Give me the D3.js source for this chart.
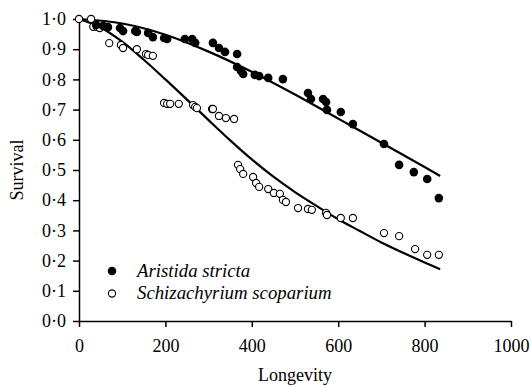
<!DOCTYPE html>
<html>
<head>
<meta charset="utf-8">
<script src="https://cdn.jsdelivr.net/npm/d3@7"></script>
<style>
  body { margin: 0; background: #fff; }
  svg text { font-family: "Liberation Serif", "Times New Roman", serif; fill: #000; }
</style>
</head>
<body>
<div id="chart"></div>
<script>
// Aristida stricta (filled)
var aristidaX = [40, 56, 67, 95, 102, 130, 134, 160, 171, 197, 204, 245, 262, 269, 310, 324, 338, 366,
  366, 375, 380, 407, 417, 438, 472, 530, 537, 565, 572, 574, 606, 634, 706, 741, 775, 806, 833];
var aristidaY = [0.98, 0.977, 0.973, 0.97, 0.96, 0.96, 0.957, 0.954, 0.94, 0.937, 0.934, 0.934, 0.934, 0.921, 0.921, 0.904, 0.891, 0.884,
  0.841, 0.828, 0.818, 0.815, 0.811, 0.805, 0.801, 0.755, 0.735, 0.735, 0.725, 0.699, 0.692, 0.652, 0.586, 0.517, 0.493, 0.47, 0.407];

// Schizachyrium scoparium (open)
var schizX = [0, 28, 33, 41, 48, 70, 97, 102, 134, 155, 160, 171, 197, 204, 211, 231, 264, 269, 273, 308, 310, 324, 340, 359,
  368, 373, 380, 403, 410, 417, 438, 451, 465, 472, 479, 507, 530, 539, 572, 574, 606, 634, 706, 741, 778, 806, 833];
var schizY = [1.0, 1.0, 0.974, 0.974, 0.97, 0.92, 0.914, 0.904, 0.9, 0.884, 0.881, 0.878, 0.722, 0.719, 0.719, 0.719, 0.715, 0.709, 0.705, 0.702, 0.702, 0.679, 0.672, 0.669,
  0.517, 0.503, 0.487, 0.477, 0.457, 0.444, 0.437, 0.424, 0.421, 0.401, 0.394, 0.374, 0.371, 0.368, 0.358, 0.351, 0.341, 0.341, 0.291, 0.281, 0.238, 0.219, 0.219];

// fitted curves
var aristidaFitX = [0, 100, 200, 300, 400, 500, 600, 700, 800, 836];
var aristidaFitY = [1.0, 0.985, 0.948, 0.892, 0.825, 0.75, 0.67, 0.59, 0.51, 0.48];
var schizFitX = [0, 50, 100, 150, 200, 250, 300, 350, 400, 450, 500, 550, 600, 650, 700, 750, 800, 836];
var schizFitY = [1.0, 0.972, 0.925, 0.865, 0.8, 0.733, 0.665, 0.598, 0.535, 0.478, 0.427, 0.381, 0.337, 0.298, 0.26, 0.226, 0.194, 0.171];

// ticks
var xTicks = [0, 200, 400, 600, 800, 1000];
var yTicks = [0, 0.1, 0.2, 0.3, 0.4, 0.5, 0.6, 0.7, 0.8, 0.9, 1.0];

var width = 531, height = 387;
var margin = { left: 79, top: 19, right: 20, bottom: 66 };
var serif = '"Liberation Serif", "Times New Roman", serif';

var svg = d3.select('#chart')
  .append('svg')
  .attr('width', width)
  .attr('height', height);

var xScale = d3.scaleLinear()
  .domain([0, 1000])
  .range([margin.left, width - margin.right]);

var yScale = d3.scaleLinear()
  .domain([0, 1])
  .range([height - margin.bottom, margin.top]);

var fmt = function(d) { return d3.format('.1f')(d).replace('.', '\u00B7'); };

// X Axis
svg.append('g')
  .attr('font-family', serif)
  .attr('transform', `translate(0, ${yScale(0)})`)
  .call(d3.axisBottom(xScale).tickValues(xTicks).tickFormat(d3.format('d')).tickSize(6).tickSizeOuter(0).tickPadding(12));

// Y Axis
svg.append('g')
  .attr('font-family', serif)
  .attr('transform', `translate(${xScale(0)}, 0)`)
  .call(d3.axisLeft(yScale).tickValues(yTicks).tickFormat(fmt).tickSize(6).tickSizeOuter(0).tickPadding(7));

svg.selectAll('.domain, .tick line')
  .attr('stroke', '#000')
  .attr('stroke-width', 1.5);

svg.selectAll('.tick text')
  .attr('font-family', serif)
  .style('font-size', '18px');

// Axis labels
svg.append('text')
  .attr('x', xScale(500))
  .attr('y', 381)
  .attr('text-anchor', 'middle')
  .attr('font-family', serif)
  .style('font-size', '18px')
  .text('Longevity');

svg.append('text')
  .attr('transform', 'rotate(-90)')
  .attr('x', -yScale(0.5))
  .attr('y', 23)
  .attr('text-anchor', 'middle')
  .attr('font-family', serif)
  .style('font-size', '18px')
  .text('Survival');

// Fitted lines
var line = d3.line()
  .x((d) => xScale(d[0]))
  .y((d) => yScale(d[1]))
  .curve(d3.curveCatmullRom);

svg.append('path')
  .datum(d3.zip(aristidaFitX, aristidaFitY))
  .attr('d', line)
  .attr('fill', 'none')
  .attr('stroke', '#000')
  .attr('stroke-width', 2.2);

svg.append('path')
  .datum(d3.zip(schizFitX, schizFitY))
  .attr('d', line)
  .attr('fill', 'none')
  .attr('stroke', '#000')
  .attr('stroke-width', 2.2);

// Points
svg.selectAll('.open')
  .data(d3.zip(schizX, schizY))
  .enter().append('circle')
  .attr('class', 'open')
  .attr('cx', (d) => xScale(d[0]))
  .attr('cy', (d) => yScale(d[1]))
  .attr('r', 3.6)
  .attr('fill', '#fff')
  .attr('stroke', '#000')
  .attr('stroke-width', 1.1);

svg.selectAll('.filled')
  .data(d3.zip(aristidaX, aristidaY))
  .enter().append('circle')
  .attr('class', 'filled')
  .attr('cx', (d) => xScale(d[0]))
  .attr('cy', (d) => yScale(d[1]))
  .attr('r', 4.3)
  .attr('fill', '#000');

// Legend
var legendItems = [
  { name: 'Aristida stricta', filled: true },
  { name: 'Schizachyrium scoparium', filled: false }
];

var legend = svg.selectAll('.legend')
  .data(legendItems)
  .enter().append('g')
  .attr('class', 'legend')
  .attr('transform', (d, i) => `translate(112, ${271 + i * 22.5})`);

legend.append('circle')
  .attr('r', (d) => d.filled ? 4.3 : 3.6)
  .attr('fill', (d) => d.filled ? '#000' : '#fff')
  .attr('stroke', '#000')
  .attr('stroke-width', (d) => d.filled ? 0 : 1.1);

legend.append('text')
  .attr('x', 25)
  .attr('y', 5.5)
  .attr('font-family', serif)
  .style('font-size', '18.8px')
  .style('font-style', 'italic')
  .text((d) => d.name);
</script>
</body>
</html>
